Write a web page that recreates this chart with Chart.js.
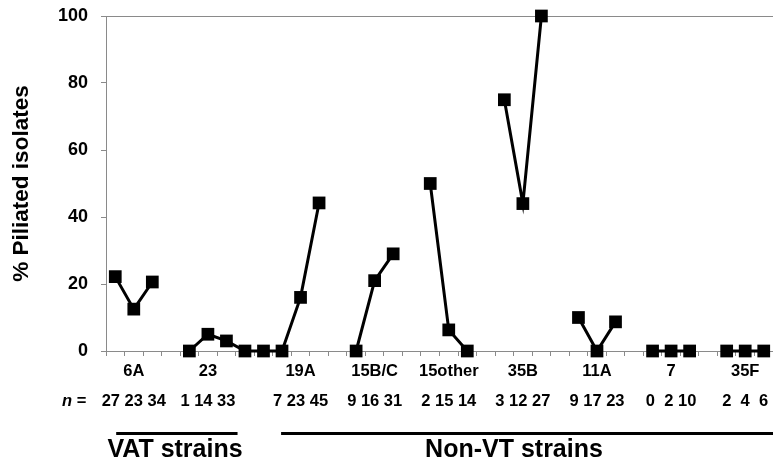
<!DOCTYPE html>
<html>
<head>
<meta charset="utf-8">
<script src="https://cdn.jsdelivr.net/npm/chart.js@4"></script>
<style>
  html, body { margin: 0; padding: 0; background: #fff; overflow: hidden; }
  #wrap { width: 782px; height: 468px; }
</style>
</head>
<body>
<div id="wrap"><canvas id="chart" width="782" height="468"></canvas></div>
<script>
// one slot per x position, null = gap between strains
const groupNames = ['6A', '23', '19A', '15B/C', '15other', '35B', '11A', '7', '35F'];
const groupCenters = [1, 5, 10, 14, 18, 22, 26, 30, 34];
const groupN = ['27 23 34', '1 14 33', '7 23 45', '9 16 31', '2 15 14', '3 12 27', '9 17 23', '0  2 10', '2  4  6'];
const piliated = [
  22.2, 12.5, 20.6, null,
  0, 5, 3, 0, 0,
  0, 16, 44.2, null,
  0, 21, 29, null,
  50, 6.3, 0, null,
  75, 44, 100, null,
  10, 0, 8.7, null,
  0, 0, 0, null,
  0, 0, 0
];
const yTicks = [0, 20, 40, 60, 80, 100];

const FONT = '"Liberation Sans", Arial, Helvetica, sans-serif';
const axisGray = '#8a8a8a';

const labels = piliated.map((v, i) => {
  const g = groupCenters.indexOf(i);
  return g >= 0 ? [groupNames[g], groupN[g]] : ['', ''];
});

// "n =" and the strain-type bars below the axis
const extras = {
  id: 'extras',
  afterDraw(chart) {
    const ctx = chart.ctx;
    const x = chart.scales.x;
    ctx.save();
    ctx.fillStyle = '#000';
    ctx.textBaseline = 'middle';
    ctx.textAlign = 'left';
    ctx.font = 'italic bold 16.5px ' + FONT;
    ctx.fillText('n', 62, 401);
    const nw = ctx.measureText('n').width;
    ctx.font = 'bold 16.5px ' + FONT;
    ctx.fillText(' =', 62 + nw, 401);

    ctx.strokeStyle = '#000';
    ctx.lineWidth = 3;
    const bars = [
      { from: 0.05, to: 6.6, text: 'VAT strains', tx: 175 },
      { from: 8.95, to: 36, text: 'Non-VT strains', tx: 514 }
    ];
    ctx.font = 'bold 25px ' + FONT;
    ctx.textAlign = 'center';
    bars.forEach(b => {
      ctx.beginPath();
      ctx.moveTo(x.getPixelForValue(b.from), 433.5);
      ctx.lineTo(x.getPixelForValue(b.to), 433.5);
      ctx.stroke();
      ctx.fillText(b.text, b.tx, 450);
    });
    ctx.restore();
  }
};

new Chart(document.getElementById('chart'), {
  type: 'line',
  data: {
    labels: labels,
    datasets: [{
      data: piliated,
      borderColor: '#000',
      borderWidth: 3,
      pointStyle: 'rect',
      pointRadius: 9,
      pointBorderWidth: 0,
      pointBackgroundColor: '#000',
      pointHoverRadius: 9,
      spanGaps: false,
      clip: false,
      tension: 0
    }]
  },
  options: {
    responsive: false,
    animation: false,
    events: [],
    layout: { padding: { top: 16, left: 0, right: 0, bottom: 0 } },
    plugins: { legend: { display: false }, tooltip: { enabled: false } },
    scales: {
      x: {
        offset: true,
        afterFit: s => { s.height = 117; s.paddingLeft = 0; s.paddingRight = 0; },
        border: { color: axisGray, width: 1 },
        grid: { offset: true, drawOnChartArea: false, tickLength: 5, color: axisGray },
        ticks: {
          autoSkip: false, maxRotation: 0, padding: 0, color: '#000',
          font: { family: FONT, size: 16.5, weight: 'bold', lineHeight: 1.85 }
        }
      },
      y: {
        min: 0, max: 100,
        afterFit: s => { s.width = 106; s.paddingTop = 0; s.paddingBottom = 0; },
        afterBuildTicks: s => { s.ticks = yTicks.map(v => ({ value: v })); },
        border: { color: axisGray, width: 1 },
        grid: {
          color: c => (c.tick && c.tick.value === 100 ? axisGray : 'rgba(0,0,0,0)'),
          tickColor: axisGray, tickLength: 5
        },
        ticks: {
          padding: 13, color: '#000',
          font: { family: FONT, size: 18, weight: 'bold' }
        },
        title: {
          display: true, text: '% Piliated isolates', color: '#000',
          padding: { top: 8.5, bottom: 0 },
          font: { family: FONT, size: 22.5, weight: 'bold' }
        }
      }
    }
  },
  plugins: [extras]
});
</script>
</body>
</html>
